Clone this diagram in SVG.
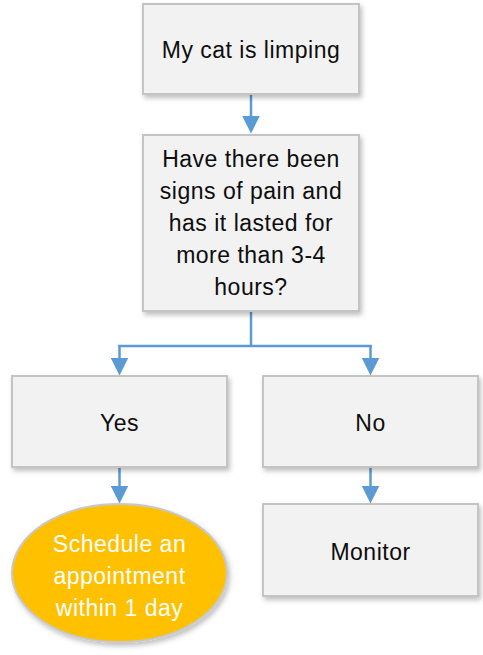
<svg xmlns="http://www.w3.org/2000/svg" width="483" height="655" viewBox="0 0 483 655">
<style>
.box{fill:#f2f2f2;stroke:#c4c4c4;stroke-width:2}
.ell{fill:#ffc000;stroke:#c8c8c8;stroke-width:2}
.t{font-family:"Liberation Sans",Arial,sans-serif;font-size:23px;fill:#0d0d0d;text-anchor:middle;letter-spacing:0.5px}
.w{fill:#ffffff}
.c{fill:none;stroke:#5b9bd5;stroke-width:2.5}
.a{marker-end:url(#ah)}
</style>
<defs>
<filter id="sh" x="-10%" y="-10%" width="125%" height="130%">
<feDropShadow dx="2" dy="3" stdDeviation="2.5" flood-color="#000" flood-opacity="0.25"/>
</filter>
<marker id="ah" markerWidth="18" markerHeight="18" viewBox="0 0 18 18" refX="0.5" refY="9" orient="auto" markerUnits="userSpaceOnUse">
<path d="M0,0 L18,9 L0,18 Z" fill="#5b9bd5"/>
</marker>
</defs>
<g id="connectors">
<path class="c a" d="M251,94 V116"/>
<path class="c" d="M251,311 V346 M118.25,346 H371.75"/>
<path class="c a" d="M119.5,345 V358"/>
<path class="c a" d="M370.5,345 V358"/>
<path class="c a" d="M119.5,467 V486"/>
<path class="c a" d="M370.5,467 V486"/>
</g>
<g id="start">
<rect class="box" x="143" y="4" width="216" height="90" filter="url(#sh)"/>
<text class="t" x="251" y="58">My cat is limping</text>
</g>
<g id="question">
<rect class="box" x="143" y="135" width="216" height="176" filter="url(#sh)"/>
<text class="t" x="251" y="167">Have there been</text>
<text class="t" x="251" y="199">signs of pain and</text>
<text class="t" x="251" y="231">has it lasted for</text>
<text class="t" x="251" y="263">more than 3-4</text>
<text class="t" x="251" y="295">hours?</text>
</g>
<g id="yes">
<rect class="box" x="12" y="376" width="215" height="91" filter="url(#sh)"/>
<text class="t" x="119.5" y="431">Yes</text>
</g>
<g id="no">
<rect class="box" x="263" y="376" width="215" height="91" filter="url(#sh)"/>
<text class="t" x="370.5" y="431">No</text>
</g>
<g id="schedule">
<ellipse class="ell" cx="119.5" cy="573" rx="107.5" ry="69" filter="url(#sh)"/>
<text class="t w" x="119.5" y="552">Schedule an</text>
<text class="t w" x="119.5" y="584">appointment</text>
<text class="t w" x="119.5" y="616">within 1 day</text>
</g>
<g id="monitor">
<rect class="box" x="263" y="504" width="215" height="92" filter="url(#sh)"/>
<text class="t" x="370.5" y="560">Monitor</text>
</g>
</svg>
